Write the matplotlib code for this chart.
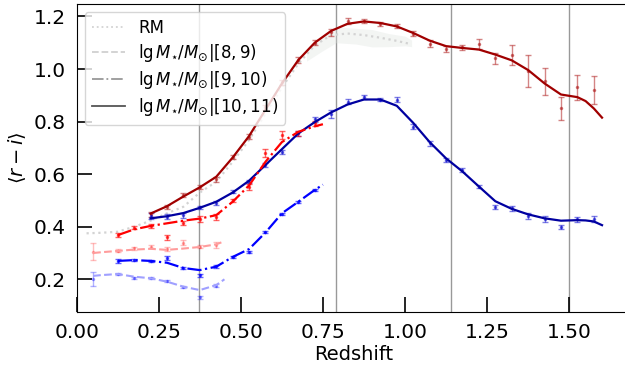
import numpy as np
import matplotlib
matplotlib.use("Agg")
import matplotlib.pyplot as plt

# bin centres
z_hi = [0.225, 0.275, 0.325, 0.375, 0.425, 0.475, 0.525, 0.575, 0.625, 0.675, 0.725, 0.775,
        0.825, 0.875, 0.925, 0.975, 1.025, 1.075, 1.125, 1.175, 1.225, 1.275, 1.325, 1.375,
        1.425, 1.475, 1.525, 1.575]
z_mid = [0.125, 0.175, 0.225, 0.275, 0.325, 0.375, 0.425, 0.475, 0.525, 0.575, 0.625, 0.675, 0.725]
z_lo = [0.05, 0.125, 0.175, 0.225, 0.275, 0.325, 0.375, 0.425]

# measured points (mean colour, error)
red_hi = [0.447, 0.476, 0.520, 0.550, 0.580, 0.664, 0.742, 0.854, 0.950, 1.034, 1.100, 1.139,
          1.183, 1.183, 1.171, 1.164, 1.135, 1.097, 1.077, 1.083, 1.096, 1.040, 1.055, 0.993,
          0.953, 0.850, 0.930, 0.920]
red_hi_err = [0.010, 0.008, 0.008, 0.008, 0.008, 0.008, 0.010, 0.010, 0.010, 0.010, 0.010, 0.012,
              0.010, 0.008, 0.008, 0.008, 0.010, 0.015, 0.012, 0.010, 0.018, 0.022, 0.038, 0.061,
              0.050, 0.045, 0.046, 0.053]
blue_hi = [0.440, 0.438, 0.444, 0.474, 0.489, 0.533, 0.571, 0.635, 0.685, 0.755, 0.809, 0.829,
           0.875, 0.894, 0.884, 0.884, 0.780, 0.717, 0.654, 0.616, 0.552, 0.476, 0.470, 0.441,
           0.429, 0.400, 0.428, 0.429]
blue_hi_err = [0.012, 0.010, 0.010, 0.006, 0.008, 0.006, 0.006, 0.008, 0.008, 0.008, 0.010, 0.015,
               0.010, 0.008, 0.006, 0.010, 0.010, 0.010, 0.006, 0.006, 0.005, 0.008, 0.010, 0.012,
               0.010, 0.008, 0.010, 0.012]
red_mid = [0.368, 0.396, 0.403, 0.360, 0.415, 0.429, 0.438, 0.501, 0.550, 0.679, 0.749, 0.755, 0.793]
red_mid_err = [0.008, 0.006, 0.006, 0.010, 0.008, 0.010, 0.012, 0.006, 0.012, 0.015, 0.015, 0.008, 0.008]
blue_mid = [0.270, 0.273, 0.270, 0.280, 0.242, 0.216, 0.250, 0.286, 0.305, 0.380, 0.450, 0.495, 0.540]
blue_mid_err = [0.008, 0.004, 0.004, 0.008, 0.004, 0.006, 0.006, 0.004, 0.004, 0.004, 0.004, 0.004, 0.004]
red_lo = [0.305, 0.308, 0.318, 0.324, 0.316, 0.339, 0.324, 0.330]
red_lo_err = [0.032, 0.006, 0.006, 0.006, 0.008, 0.010, 0.006, 0.012]
blue_lo = [0.201, 0.220, 0.206, 0.205, 0.192, 0.172, 0.132, 0.176]
blue_lo_err = [0.027, 0.004, 0.004, 0.004, 0.004, 0.004, 0.006, 0.006]

# smoothed curves
zc_hi = [0.225, 0.275, 0.325, 0.375, 0.425, 0.475, 0.525, 0.575, 0.625, 0.675, 0.725, 0.775,
         0.825, 0.875, 0.925, 0.975, 1.025, 1.075, 1.125, 1.175, 1.225, 1.275, 1.325, 1.375,
         1.425, 1.475, 1.525, 1.55, 1.575, 1.60]
red_hi_fit = [0.450, 0.478, 0.515, 0.550, 0.590, 0.663, 0.745, 0.845, 0.945, 1.034, 1.100, 1.145,
              1.172, 1.181, 1.175, 1.162, 1.137, 1.108, 1.087, 1.080, 1.074, 1.055, 1.033, 0.996,
              0.945, 0.903, 0.893, 0.878, 0.850, 0.815]
blue_hi_fit = [0.432, 0.440, 0.452, 0.472, 0.495, 0.530, 0.575, 0.635, 0.695, 0.755, 0.798, 0.835,
               0.865, 0.884, 0.884, 0.860, 0.795, 0.722, 0.660, 0.610, 0.553, 0.497, 0.468, 0.447,
               0.432, 0.423, 0.425, 0.424, 0.420, 0.406]
zc_mid = [0.125, 0.175, 0.225, 0.275, 0.325, 0.375, 0.425, 0.475, 0.525, 0.575, 0.625, 0.675, 0.725, 0.75]
red_mid_fit = [0.368, 0.390, 0.403, 0.413, 0.423, 0.431, 0.444, 0.495, 0.557, 0.647, 0.722, 0.761, 0.782, 0.790]
blue_mid_fit = [0.270, 0.273, 0.270, 0.263, 0.243, 0.235, 0.248, 0.285, 0.315, 0.378, 0.451, 0.495, 0.540, 0.560]
zc_lo = [0.05, 0.075, 0.125, 0.175, 0.225, 0.275, 0.325, 0.375, 0.425, 0.45]
red_lo_fit = [0.300, 0.303, 0.308, 0.313, 0.316, 0.312, 0.317, 0.323, 0.333, 0.345]
blue_lo_fit = [0.213, 0.216, 0.220, 0.210, 0.204, 0.191, 0.172, 0.159, 0.178, 0.200]

# redMaPPer reference relation
z_rm = [0.03, 0.075, 0.125, 0.175, 0.225, 0.275, 0.325, 0.375, 0.425, 0.475, 0.525, 0.575,
        0.625, 0.675, 0.725, 0.775, 0.825, 0.875, 0.925, 0.975, 1.01]
rm = [0.375, 0.377, 0.381, 0.400, 0.423, 0.451, 0.476, 0.530, 0.571, 0.647, 0.730, 0.831,
      0.930, 1.020, 1.090, 1.129, 1.135, 1.129, 1.119, 1.107, 1.097]
z_band = [0.70, 0.75, 0.79, 0.85, 0.90, 0.95, 1.00, 1.02]
band_lo = [1.03, 1.07, 1.10, 1.095, 1.084, 1.085, 1.088, 1.085]
band_hi = [1.07, 1.12, 1.16, 1.155, 1.15, 1.135, 1.125, 1.11]

z_lines = [0.372, 0.791, 1.140, 1.500]

fig = plt.figure(figsize=(6.25, 3.71), dpi=100)
ax = fig.add_axes([0.1227, 0.160, 0.8873, 0.829])

for zl in z_lines:
    ax.axvline(zl, color='gray', lw=1.0, alpha=0.8, zorder=0)

ax.fill_between(z_band, band_lo, band_hi, color='#dde3df', alpha=0.35, lw=0, zorder=1)
ax.plot(z_rm, rm, ls=':', color='lightgray', lw=1.6, zorder=2)

eb = dict(fmt='.', ms=3, capsize=2, elinewidth=1, capthick=1, zorder=3)
ax.errorbar(z_hi, red_hi, yerr=red_hi_err, color='firebrick', alpha=0.55, **eb)
ax.errorbar(z_hi, blue_hi, yerr=blue_hi_err, color='mediumblue', alpha=0.5, **eb)
ax.errorbar(z_mid, red_mid, yerr=red_mid_err, color='red', alpha=0.6, **eb)
ax.errorbar(z_mid, blue_mid, yerr=blue_mid_err, color='blue', alpha=0.6, **eb)
ax.errorbar(z_lo, red_lo, yerr=red_lo_err, color='red', alpha=0.25, **eb)
ax.errorbar(z_lo, blue_lo, yerr=blue_lo_err, color='blue', alpha=0.3, **eb)

ax.plot(zc_hi, red_hi_fit, '-', color='#a00000', lw=1.6, zorder=4)
ax.plot(zc_hi, blue_hi_fit, '-', color='#0000a0', lw=1.6, zorder=4)
ax.plot(zc_mid, red_mid_fit, '-.', color='red', lw=1.6, zorder=4)
ax.plot(zc_mid, blue_mid_fit, '-.', color='blue', lw=1.6, zorder=4)
ax.plot(zc_lo, red_lo_fit, '--', color='#ff9c9c', lw=1.5, zorder=4)
ax.plot(zc_lo, blue_lo_fit, '--', color='#a0a0ff', lw=1.5, zorder=4)

# legend handles in grey
h1, = ax.plot([], [], ':', color='lightgray', lw=1.3, label='RM')
h2, = ax.plot([], [], '--', color='#d0d0d0', lw=1.3, label=r'$\lg M_{\star}/M_{\odot}|[8,9)$')
h3, = ax.plot([], [], '-.', color='#999999', lw=1.3, label=r'$\lg M_{\star}/M_{\odot}|[9,10)$')
h4, = ax.plot([], [], '-', color='#555555', lw=1.3, label=r'$\lg M_{\star}/M_{\odot}|[10,11)$')
ax.legend(handles=[h1, h2, h3, h4], loc='upper left', fontsize=12, labelspacing=0.3)

ax.set_xlim(0, 1.689)
ax.set_ylim(0.077, 1.247)
ax.set_xticks([0.0, 0.25, 0.5, 0.75, 1.0, 1.25, 1.5])
ax.set_yticks([0.2, 0.4, 0.6, 0.8, 1.0, 1.2])
ax.tick_params(direction='in', length=11, width=1.2, labelsize=14.5, pad=8)
ax.spines['right'].set_visible(False)
ax.set_xlabel('Redshift', fontsize=14, labelpad=2)
ax.set_ylabel(r'$\langle r-i\rangle$', fontsize=14)

fig.savefig('out.png', dpi=100)
